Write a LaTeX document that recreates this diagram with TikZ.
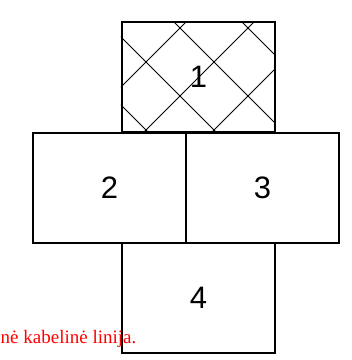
\documentclass[tikz,border=0pt]{standalone}
\usepackage{fontspec}
\setmainfont{Liberation Serif}
\newfontfamily\arialf{Liberation Sans}
\begin{document}
\begin{tikzpicture}[x=1pt,y=-1pt,
  cell/.style={draw=black,line width=2pt,minimum width=153pt,minimum height=110pt,inner sep=0pt,font=\arialf\fontsize{31}{31}\selectfont},
  hatch/.style={line width=0.8pt}]
\useasboundingbox (0,0) rectangle (352,360);
\node[cell] (b1) at (198.5,77.25) {1};
\node[cell] (b2) at (109.5,187.5) {2};
\node[cell] (b3) at (262.5,187.5) {3};
\node[cell] (b4) at (198.5,297.5) {4};
\begin{scope}
  \clip (b1.north west) rectangle (b1.south east);
  \foreach \c in {-16,-84,-152,-220} \draw[hatch] (100,100+\c) -- (300,300+\c);
  \foreach \d in {140,208,276,344,412} \draw[hatch] (100,\d-100) -- (300,\d-300);
\end{scope}
\node[anchor=base east,text=red,inner sep=0pt,font=\fontsize{19}{19}\selectfont] (cap) at (136.5,343) {nė kabelinė linija.};
\end{tikzpicture}
\end{document}
